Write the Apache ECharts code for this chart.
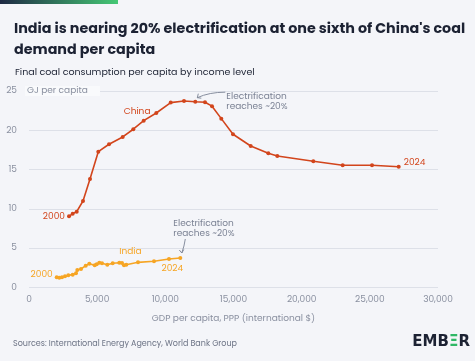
<!DOCTYPE html>
<html><head><meta charset="utf-8">
<script src="https://cdn.jsdelivr.net/npm/echarts@6/dist/echarts.min.js"></script>
<style>html,body{margin:0;padding:0;background:#f4f5f9;}#c{width:475px;height:361px;}</style>
</head><body><div id="c"></div>
<script>
const titleText = "India is nearing 20% electrification at one sixth of China's coal\ndemand per capita";
const subtitleText = "Final coal consumption per capita by income level";
const sourceText = "Sources: International Energy Agency, World Bank Group";
const yUnit = "GJ per capita";
const xName = "GDP per capita, PPP (international $)";
const annotationText = "Electrification\nreaches ~20%";
const years = [2000,2001,2002,2003,2004,2005,2006,2007,2008,2009,2010,2011,2012,2013,2014,2015,2016,2017,2018,2019,2020,2021,2022,2023,2024];
const chinaGdp = [2934,3205,3499,3961,4474,5083,5868,6873,7650,8413,9337,10394,11369,12198,12910,13423,14105,14964,16262,17553,18213,20854,23010,25160,27118];
const chinaCoal = [9.04,9.38,9.63,10.99,13.80,17.27,18.22,19.15,20.13,21.22,22.20,23.52,23.73,23.64,23.57,23.07,21.48,19.49,18.0,17.07,16.73,16.05,15.54,15.54,15.36];
const indiaGdp = [2032,2222,2420,2641,2883,3205,3447,3543,3814,4159,4423,4819,4966,5157,5355,5743,6139,6624,6822,6968,7137,7995,9169,10269,11098];
const indiaCoal = [1.27,1.22,1.27,1.40,1.53,1.61,1.78,2.20,2.33,2.75,3.01,2.80,2.93,3.13,3.06,2.88,3.06,3.13,3.09,2.80,2.88,3.18,3.31,3.61,3.73];
const xTicks = [0,5000,10000,15000,20000,25000,30000];
const yTicks = [0,5,10,15,20,25];

const CHINA = '#d2451c', INDIA = '#f6a524', GREY = '#8a90a0', FONT = 'Poppins, "Open Sans", Lato, sans-serif';

function mk(gdp, coal, color, startPos, endPos, endOff, startOff) {
  return gdp.map((g, i) => {
    const item = { value: [g, coal[i]] };
    if (i === 0) item.label = { show: true, formatter: String(years[0]), position: startPos, distance: 2, offset: startOff, color: color, fontSize: 9, fontFamily: FONT };
    if (i === gdp.length - 1) item.label = { show: true, formatter: String(years[years.length-1]), position: endPos, distance: 3, offset: endOff, color: color, fontSize: 9, fontFamily: FONT };
    return item;
  });
}

const chart = echarts.init(document.getElementById('c'), null, { renderer: 'canvas' });
const option = {
  backgroundColor: '#f4f5f9',
  animation: false,
  title: [
    { text: titleText, left: 9, top: 14, textStyle: { fontFamily: FONT, fontWeight: 'bold', fontSize: 14.3, color: '#1c2233', lineHeight: 21 } },
    { text: subtitleText, left: 10, top: 63, textStyle: { fontFamily: FONT, fontWeight: 'normal', fontSize: 9.5, color: '#1c2233' } },
    { text: sourceText, left: 8, top: 335, textStyle: { fontFamily: FONT, fontWeight: 'normal', fontSize: 8, color: '#6d7486' } }
  ],
  grid: { left: 29, right: 37, top: 91, bottom: 73.7, containLabel: false },
  xAxis: {
    type: 'value', min: 0, max: 30000, interval: 5000,
    name: xName, nameLocation: 'middle', nameGap: 27,
    nameTextStyle: { color: GREY, fontSize: 9, fontFamily: FONT },
    axisLine: { show: false }, axisTick: { show: false }, splitLine: { show: false },
    axisLabel: { color: GREY, fontSize: 9, fontFamily: FONT, margin: 8,
      formatter: v => v.toLocaleString('en-US') }
  },
  yAxis: {
    type: 'value', min: 0, max: 25, interval: 5,
    axisLine: { show: false }, axisTick: { show: false },
    splitLine: { lineStyle: { color: '#dde0e8', width: 1 } },
    axisLabel: { color: GREY, fontSize: 9, fontFamily: FONT, margin: 12 }
  },
  series: [
    { name: 'China', type: 'line', data: mk(chinaGdp, chinaCoal, CHINA, 'left', 'right', [0,-4], [0,0]),
      symbol: 'circle', symbolSize: 4, lineStyle: { color: CHINA, width: 1.6 }, itemStyle: { color: CHINA }, z: 3 },
    { name: 'India', type: 'line', data: mk(indiaGdp, indiaCoal, INDIA, 'left', 'bottom', [-8,1], [0,-3]),
      symbol: 'circle', symbolSize: 4, lineStyle: { color: INDIA, width: 1.6 }, itemStyle: { color: INDIA }, z: 3 }
  ]
};
chart.setOption(option);

const P = (x, y) => chart.convertToPixel({ gridIndex: 0 }, [x, y]);
const cTop = P(0, 25);
const cLab = P(chinaGdp[9], chinaCoal[9]);
const iLab = P(indiaGdp[17], indiaCoal[17]);
const cTgt = P(chinaGdp[13], chinaCoal[13]);
const iTgt = P(indiaGdp[24], indiaCoal[24]);
const annTxt = { fill: '#7b8294', fontSize: 9, fontFamily: FONT, lineHeight: 10 };

const cA = [cTgt[0] + 2, cTgt[1] - 4];
const iA = [iTgt[0] + 1.5, iTgt[1] - 5];
chart.setOption({
  graphic: [
    { type: 'rect', left: 0, top: 0, shape: { width: 118, height: 4 },
      style: { fill: new echarts.graphic.LinearGradient(0, 0, 1, 0, [{ offset: 0, color: '#1e2944' }, { offset: 1, color: '#45c875' }]) } },
    { type: 'rect', shape: { x: cTop[0] - 4, y: cTop[1] - 5, width: 75, height: 10 }, style: { fill: '#f9fafc' }, z: 10 },
    { type: 'text', x: cTop[0] - 2, y: cTop[1], style: { text: yUnit, fill: GREY, fontSize: 9, fontFamily: FONT, verticalAlign: 'middle' }, z: 11 },
    { type: 'text', x: cLab[0] - 20, y: cLab[1] - 9, style: { text: 'China', fill: CHINA, fontSize: 9, fontFamily: FONT, verticalAlign: 'middle' }, z: 11 },
    { type: 'text', x: iLab[0] + 0, y: iLab[1] - 10.5, style: { text: 'India', fill: INDIA, fontSize: 9, fontFamily: FONT, verticalAlign: 'middle' }, z: 11 },
    { type: 'text', x: cTgt[0] + 31, y: cTgt[1] + 0.5, style: Object.assign({ text: annotationText, verticalAlign: 'middle' }, annTxt), z: 11 },
    { type: 'text', x: iTgt[0] - 7, y: iTgt[1] - 29, style: Object.assign({ text: annotationText, verticalAlign: 'middle' }, annTxt), z: 11 },
    { type: 'bezierCurve', shape: { x1: cTgt[0] + 30, y1: cTgt[1] - 9.5, cpx1: cTgt[0] + 14, cpy1: cTgt[1] - 9.5, x2: cA[0], y2: cA[1] },
      style: { stroke: '#7b8294', lineWidth: 0.9, fill: null }, z: 11 },
    { type: 'polyline', shape: { points: [[cA[0] + 1, cA[1] - 4], [cA[0], cA[1]], [cA[0] + 4, cA[1] + 0.5]] },
      style: { stroke: '#7b8294', lineWidth: 0.9, fill: null }, z: 11 },
    { type: 'bezierCurve', shape: { x1: iTgt[0] + 5, y1: iTgt[1] - 19, cpx1: iTgt[0] + 4, cpy1: iTgt[1] - 12, x2: iA[0], y2: iA[1] },
      style: { stroke: '#7b8294', lineWidth: 0.9, fill: null }, z: 11 },
    { type: 'polyline', shape: { points: [[iA[0] - 2.5, iA[1] - 3], [iA[0], iA[1]], [iA[0] + 2, iA[1] - 3.5]] },
      style: { stroke: '#7b8294', lineWidth: 0.9, fill: null }, z: 11 },
    { type: 'text', right: 5, top: 335, style: { text: '{a|EMB}{b|Ξ}{a|R}', rich: {
        a: { fontFamily: '"DejaVu Sans", sans-serif', fontWeight: 'bold', fontSize: 15, fill: '#1c2233' },
        b: { fontFamily: '"DejaVu Sans", sans-serif', fontWeight: 'bold', fontSize: 15, fill: '#2fb866' } } } }
  ]
});
</script></body></html>
